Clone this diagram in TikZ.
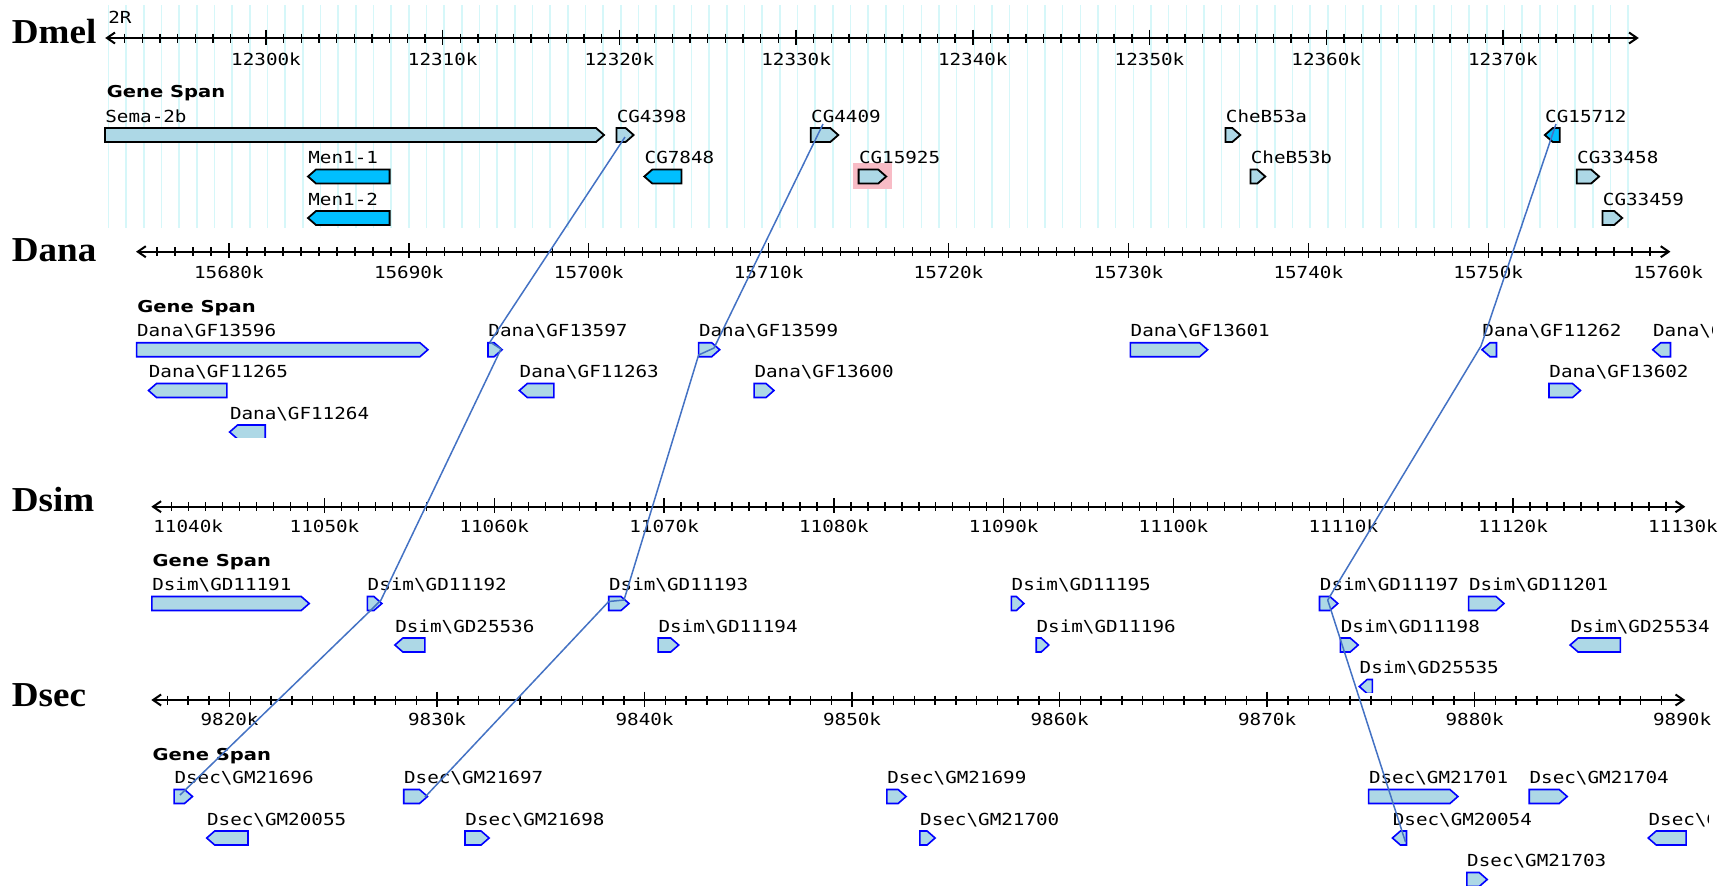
\documentclass[tikz,border=0pt]{standalone}
\usepackage{fontspec}
\newfontfamily\labfont[FakeStretch=1.16]{DejaVu Sans Mono}
\newfontfamily\gsfont[FakeStretch=1.19]{DejaVu Sans}
\newfontfamily\spfont[FakeStretch=1.06]{Liberation Serif}
\definecolor{lb}{HTML}{ADD8E6}
\definecolor{dsb}{HTML}{00BFFF}
\definecolor{gblue}{HTML}{0000FF}
\definecolor{conn}{HTML}{4472C4}
\definecolor{gridc}{HTML}{D6F7F9}
\definecolor{pinkh}{HTML}{F8BCC6}
\tikzset{
 lab/.style={anchor=base west, inner sep=0pt, font=\labfont\fontsize{8.3pt}{10pt}\selectfont},
 tl/.style={anchor=base, inner sep=0pt, font=\labfont\fontsize{8.3pt}{10pt}\selectfont},
 tlw/.style={anchor=base west, inner sep=0pt, font=\labfont\fontsize{8.3pt}{10pt}\selectfont},
 gs/.style={anchor=base west, inner sep=0pt, font=\gsfont\bfseries\fontsize{8.2pt}{10pt}\selectfont},
 sp/.style={anchor=base west, inner sep=0pt, font=\spfont\bfseries\fontsize{17.5pt}{18pt}\selectfont},
 dm/.style={draw=black, fill=lb, line width=0.9pt},
 dmd/.style={draw=black, fill=dsb, line width=0.9pt},
 og/.style={draw=gblue, fill=lb, line width=0.8pt},
 rline/.style={draw=black, line width=1pt},
 tickl/.style={draw=black, line width=0.7pt},
 gridl/.style={draw=gridc, line width=0.8pt},
 connl/.style={draw=conn, line width=0.75pt, line join=round},
}
% right-pointing gene: style, name, x1, x2, ytop, label
\newcommand\gR[6]{%
 \pgfmathsetmacro\tp{min(8,0.6*(#4-#3))}%
 \draw[#1] (#3,#5) -- ({#4-\tp},#5) -- (#4,{#5+7}) -- ({#4-\tp},{#5+14}) -- (#3,{#5+14}) -- cycle;
 \node[lab] (#2) at (#3,{#5-6}) {#6};
}
% left-pointing gene
\newcommand\gL[6]{%
 \pgfmathsetmacro\tp{min(8,0.6*(#4-#3))}%
 \draw[#1] (#4,#5) -- ({#3+\tp},#5) -- (#3,{#5+7}) -- ({#3+\tp},{#5+14}) -- (#4,{#5+14}) -- cycle;
 \node[lab] (#2) at (#3,{#5-6}) {#6};
}
% ruler: y, xs, xe, x0, slope, kmin, kmax, kmajmax
\newcommand\rul[8]{%
 \draw[rline] (#2,#1) -- (#3,#1);
 \draw[rline] ({#2+8},{#1-5.5}) -- (#2,#1) -- ({#2+8},{#1+5.5});
 \draw[rline] ({#3-8},{#1-5.5}) -- (#3,#1) -- ({#3-8},{#1+5.5});
 \foreach \k in {#6,...,#7} \draw[tickl] ({#4+\k*#5},{#1-4.5}) -- ({#4+\k*#5},{#1+4.5});
 \foreach \k in {0,10,...,#8} \draw[tickl] ({#4+\k*#5},{#1-8.5}) -- ({#4+\k*#5},{#1+6.5});
}
\begin{document}
\begin{tikzpicture}[x=0.5pt,y=-0.5pt]
\useasboundingbox (0,0) rectangle (1733,885);
\clip (0,0) rectangle (1733,885);
\fill[white] (0,0) rectangle (1733,885);

% ---------------- Dmel ----------------
\foreach \k in {-9,...,77} \draw[gridl] ({266+\k*17.67+1.5},5) -- ({266+\k*17.67+1.5},228);
\node[sp] (tdmel) at (11.5,43) {Dmel};
\node[tlw] (chr) at (108,23) {2R};
\rul{38}{107}{1637}{266}{17.67}{-8}{76}{70}
\foreach \k in {0,10,...,70}{\pgfmathtruncatemacro\v{12300+\k}\node[tl] (dmel-\k) at ({266+\k*17.67},65) {\v k};}
\node[gs] (gsdmel) at (106.5,97.3) {Gene Span};
\fill[pinkh] (852.5,163.3) rectangle (891.9,189);
\gR{dm}{sema2b}{105}{604}{128}{Sema-2b}
\gR{dm}{cg4398}{616.4}{633.6}{128}{CG4398}
\gR{dm}{cg4409}{810.8}{838.3}{128}{CG4409}
\gR{dm}{cheb53a}{1225.5}{1240.3}{128}{CheB53a}
\gL{dmd}{cg15712}{1544.8}{1559.7}{128}{CG15712}
\gL{dmd}{men11}{308}{389.6}{169.5}{Men1-1}
\gL{dmd}{cg7848}{644.3}{681.4}{169.5}{CG7848}
\gR{dm}{cg15925}{858.6}{886.2}{169.5}{CG15925}
\gR{dm}{cheb53b}{1250.4}{1265.3}{169.5}{CheB53b}
\gR{dm}{cg33458}{1576.8}{1599.1}{169.5}{CG33458}
\gL{dmd}{men12}{308}{389.6}{211}{Men1-2}
\gR{dm}{cg33459}{1602.5}{1622.2}{211}{CG33459}

% ---------------- Dana ----------------
\node[sp] (tdana) at (11.5,261) {Dana};
\rul{251.7}{137.8}{1668.7}{228.9}{17.99}{-4}{79}{70}
\foreach \k in {0,10,...,80}{\pgfmathtruncatemacro\v{15680+\k}\node[tl] (dana-\k) at ({228.9+\k*17.99},278) {\v k};}
\node[gs] (gsdana) at (137,312.5) {Gene Span};
\begin{scope}
\clip (0,300) rectangle (1712,437.5);
\gR{og}{gf13596}{136.6}{427.9}{342.7}{Dana\textbackslash GF13596}
\gR{og}{gf13597}{488}{502.1}{342.7}{Dana\textbackslash GF13597}
\gR{og}{gf13599}{698.6}{719.7}{342.7}{Dana\textbackslash GF13599}
\gR{og}{gf13601}{1130.3}{1207.6}{342.7}{Dana\textbackslash GF13601}
\gL{og}{gf11262}{1482}{1496.5}{342.7}{Dana\textbackslash GF11262}
\gL{og}{gfx}{1652.7}{1670.5}{342.7}{Dana\textbackslash G}
\gL{og}{gf11265}{148.5}{226.9}{383.5}{Dana\textbackslash GF11265}
\gL{og}{gf11263}{519.3}{553.8}{383.5}{Dana\textbackslash GF11263}
\gR{og}{gf13600}{754.1}{774}{383.5}{Dana\textbackslash GF13600}
\gR{og}{gf13602}{1549}{1580.5}{383.5}{Dana\textbackslash GF13602}
\gL{og}{gf11264}{229.6}{265.2}{425}{Dana\textbackslash GF11264}
\end{scope}

% ---------------- Dsim ----------------
\node[sp] (tdsim) at (11.5,511) {Dsim};
\rul{506.7}{153.1}{1683.5}{324.5}{16.98}{-9}{79}{70}
\node[tlw] (dsim-m10) at (153,532) {11040k};
\foreach \k in {0,10,...,80}{\pgfmathtruncatemacro\v{11050+\k}\node[tl] (dsim-\k) at ({324.5+\k*16.98},532) {\v k};}
\node[gs] (gsdsim) at (152.3,566) {Gene Span};
\begin{scope}
\clip (0,550) rectangle (1733,692);
\gR{og}{gd11191}{151.9}{309.2}{596.5}{Dsim\textbackslash GD11191}
\gR{og}{gd11192}{367.3}{381.9}{596.5}{Dsim\textbackslash GD11192}
\gR{og}{gd11193}{608.7}{629}{596.5}{Dsim\textbackslash GD11193}
\gR{og}{gd11195}{1011.3}{1023.9}{596.5}{Dsim\textbackslash GD11195}
\gR{og}{gd11197}{1319.5}{1337.8}{596.5}{Dsim\textbackslash GD11197}
\gR{og}{gd11201}{1468.6}{1504}{596.5}{Dsim\textbackslash GD11201}
\gL{og}{gd25536}{394.9}{424.8}{638}{Dsim\textbackslash GD25536}
\gR{og}{gd11194}{658.1}{678.7}{638}{Dsim\textbackslash GD11194}
\gR{og}{gd11196}{1036.2}{1048.8}{638}{Dsim\textbackslash GD11196}
\gR{og}{gd11198}{1340.4}{1358.2}{638}{Dsim\textbackslash GD11198}
\gL{og}{gd25534}{1570.1}{1620.3}{638}{Dsim\textbackslash GD25534}
\gL{og}{gd25535}{1359.3}{1372.3}{679.5}{Dsim\textbackslash GD25535}
\end{scope}

% ---------------- Dsec ----------------
\node[sp] (tdsec) at (11.5,706) {Dsec};
\rul{700}{153.1}{1683.5}{229.6}{20.75}{-3}{69}{60}
\foreach \k in {0,10,...,70}{\pgfmathtruncatemacro\v{9820+\k}\node[tl] (dsec-\k) at ({229.6+\k*20.75},725.5) {\v k};}
\node[gs] (gsdsec) at (152.3,760) {Gene Span};
\begin{scope}
\clip (0,740) rectangle (1708,885);
\gR{og}{gm21696}{174.1}{192.5}{789.5}{Dsec\textbackslash GM21696}
\gR{og}{gm21697}{403.7}{427.5}{789.5}{Dsec\textbackslash GM21697}
\gR{og}{gm21699}{886.9}{906.1}{789.5}{Dsec\textbackslash GM21699}
\gR{og}{gm21701}{1368.6}{1457.9}{789.5}{Dsec\textbackslash GM21701}
\gR{og}{gm21704}{1529.2}{1567.2}{789.5}{Dsec\textbackslash GM21704}
\gL{og}{gm20055}{206.7}{248}{831}{Dsec\textbackslash GM20055}
\gR{og}{gm21698}{465}{489.1}{831}{Dsec\textbackslash GM21698}
\gR{og}{gm21700}{919.8}{935.1}{831}{Dsec\textbackslash GM21700}
\gL{og}{gm20054}{1392.4}{1406.5}{831}{Dsec\textbackslash GM20054}
\gL{og}{gmx}{1648.2}{1686.1}{831}{Dsec\textbackslash G}
\gR{og}{gm21703}{1466.8}{1487.2}{872.5}{Dsec\textbackslash GM21703}
\end{scope}

% ---------------- connectors ----------------
\coordinate (a1) at (625,137);
\coordinate (a2) at (490,342);
\coordinate (a3) at (501,349);
\coordinate (a4) at (381,600);
\coordinate (a5) at (371,610);
\coordinate (a6) at (180,795);
\coordinate (b1) at (823,124);
\coordinate (b2) at (714,348);
\coordinate (b3) at (698.6,355);
\coordinate (b4) at (624,600);
\coordinate (b5) at (608.7,601.5);
\coordinate (b6) at (425,797);
\coordinate (c1) at (1556,124);
\coordinate (c2) at (1481,346);
\coordinate (c3) at (1327.7,600);
\coordinate (c4) at (1405.5,842);
\draw[connl] (a1) -- (a2) -- (a3) -- (a4) -- (a5) -- (a6);
\draw[connl] (b1) -- (b2) -- (b3) -- (b4) -- (b5) -- (b6);
\draw[connl] (c1) -- (c2) -- (c3) -- (c4);
\end{tikzpicture}
\end{document}
